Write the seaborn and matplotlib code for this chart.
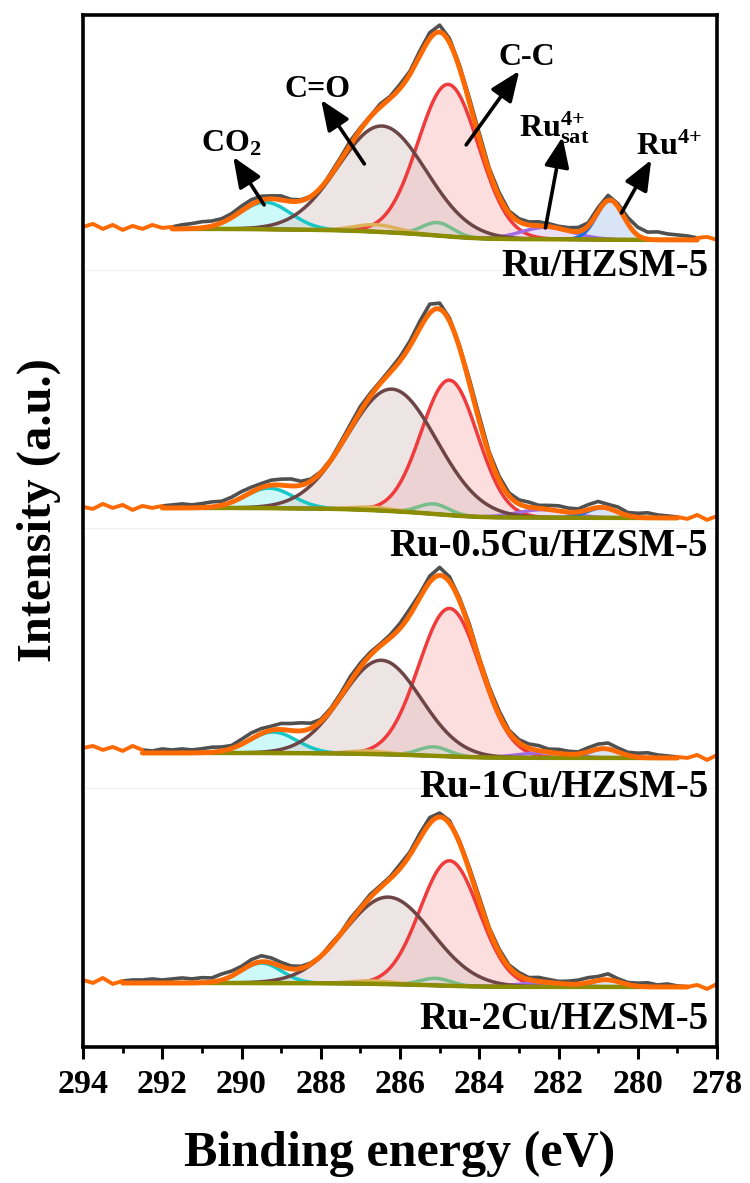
import numpy as np
import matplotlib.pyplot as plt
import seaborn as sns
from matplotlib.ticker import MultipleLocator

# C 1s spectra, top to bottom
samples = ["Ru/HZSM-5", "Ru-0.5Cu/HZSM-5", "Ru-1Cu/HZSM-5", "Ru-2Cu/HZSM-5"]

# levels of the flat tails and of the Shirley background (a.u., stacked)
tail_left = [820, 540, 299, 67]
tail_right = [809, 530, 290, 60]
bg_left = [818, 539, 294, 64]
bg_right = [807, 529, 289, 60]
fit_start = [291.75, 292.0, 292.5, 293.0]
fit_end = [278.5, 279.0, 279.0, 278.75]

# fitted peaks per sample: [centre (eV), height (a.u.), FWHM (eV)]
co2 = [[289.4, 27, 1.5], [289.3, 20, 1.4], [289.2, 21, 1.4], [289.5, 20, 1.2]]
co = [[286.45, 106, 2.6], [286.2, 122, 2.65], [286.47, 94, 2.35], [286.3, 87, 2.6]]
cc = [[284.78, 152, 1.8], [284.75, 135, 1.67], [284.75, 148, 1.83], [284.75, 125, 1.75]]
coh = [[285.05, 13, 0.9], [285.15, 10, 0.9], [285.15, 9, 0.9], [285.1, 7, 0.9]]
oco = [[286.6, 7, 1.3], [286.7, 3, 1.2], [286.8, 3, 1.2], [286.7, 3, 1.2]]
ru_sat = [[282.3, 12, 1.5], [282.4, 8, 1.5], [282.4, 5, 1.5], [282.4, 4, 1.5]]
ru4 = [[280.7, 39, 0.8], [280.9, 10, 0.9], [280.85, 9, 0.9], [280.8, 7, 0.9]]

# raw counts minus fit envelope, every 0.25 eV from 294 to 278 eV
resid_ru = [0, 3, -2, 2, -3, 1, -2, 2, -1,
            2, 4, 5, 6, 5, 4, 4, 5, 5, 4, 3, 4, 2, 1, 0, -1,
            2, 3, 4, 2, 1, 3, 2, 4, 3, 5, 6, 7, 4, 3,
            4, 5, 3, 4, 2, 3, 3, 4, 3, 2, 3, 4, 3, 4, 5, 3,
            6, 8, 7, 8, 6, 5, 4, 2, 1, -2]
resid_05cu = [0, -2, 3, -1, 2, -3, 1, -1,
              2, 3, 4, 3, 4, 5, 4, 5, 6, 5, 4, 5, 6, 7, 4, 2, 1,
              1, 3, 4, 5, 3, 2, 3, 4, 5, 7, 9, 6, 3,
              2, 4, 5, 3, 4, 3, 4, 5, 3, 4, 5, 4, 3, 5, 6, 4, 5, 3,
              4, 5, 3, 2, 1, -2, 2, -3, 1]
resid_1cu = [0, 2, -2, 1, -3, 2,
             3, 2, 4, 3, 4, 3, 4, 5, 4, 3, 5, 6, 5, 4, 6, 7, 8, 5, 2,
             2, 3, 5, 4, 3, 2, 3, 5, 6, 4, 6, 8, 5,
             3, 4, 2, 3, 4, 2, 3, 4, 5, 3, 4, 3, 2, 4, 5, 6, 4, 3,
             4, 5, 3, 2, 1, -1, 2, -3, 2]
resid_2cu = [0, -3, 2, -4,
             2, 3, 3, 4, 3, 4, 5, 4, 5, 4, 6, 5, 4, 5, 6, 5, 4, 3, 2, 1, 0,
             2, 1, 3, 2, 3, 2, 2, 4, 3, 5, 6, 4, 3,
             2, 3, 4, 2, 3, 2, 3, 2, 4, 3, 2, 3, 4, 5, 4, 6, 3, 2,
             3, 4, 2, 3, 1, 0, 2, -2, 3]
residuals = [resid_ru, resid_05cu, resid_1cu, resid_2cu]

# drawing order and colours (line, fill, fill alpha)
peaks = [
    (co2, "#19C7C7", "#BDF7F7", 0.75),
    (cc, "#EF3B3B", "#FBD3D3", 0.75),
    (coh, "#79BD8C", "#D5EDDB", 0.6),
    (oco, "#DDB15A", "#F3E3C0", 0.6),
    (ru_sat, "#A36BE3", "#E1D2F7", 0.7),
    (ru4, "#1F6FE3", "#C9DBF5", 0.7),
    (co, "#6E4545", "#D9C4C4", 0.45),
]

sns.set_theme(style="ticks")
plt.rcParams["font.family"] = ["Liberation Serif", "DejaVu Serif"]
plt.rcParams["font.weight"] = "bold"
plt.rcParams["axes.labelweight"] = "bold"
plt.rcParams["text.color"] = "black"
plt.rcParams["axes.labelcolor"] = "black"
plt.rcParams["xtick.color"] = "black"
plt.rcParams["mathtext.fontset"] = "custom"
plt.rcParams["mathtext.rm"] = "Liberation Serif:bold"
plt.rcParams["mathtext.it"] = "Liberation Serif:bold"
plt.rcParams["mathtext.bf"] = "Liberation Serif:bold"


def gauss(x, p):
    c, h, w = p
    s = w / 2.3548
    return h * np.exp(-0.5 * ((x - c) / s) ** 2)


energy = np.round(np.linspace(294, 278, 641), 3)
raw_energy = energy[::10]

fig = plt.figure(figsize=(7.5, 11.83), dpi=100)
ax = fig.add_axes([0.1107, 0.1150, 0.8453, 0.8724])

for y in [777, 519, 259]:
    ax.axhline(y, color="#F0F0F0", lw=0.8, zorder=0)

for i, name in enumerate(samples):
    m = (energy <= fit_start[i] + 1e-6) & (energy >= fit_end[i] - 1e-6)
    x = energy[m]
    comps = [gauss(x, p[i]) for p, _, _, _ in peaks]
    total = np.sum(comps, axis=0)
    cum = np.cumsum(total[::-1])[::-1]
    bg = bg_right[i] + (bg_left[i] - bg_right[i]) * cum / cum[0]
    env = bg + total

    for g, (p, lc, fc, a) in zip(comps, peaks):
        ax.fill_between(x, bg, bg + g, color=fc, alpha=a, lw=0)
        sns.lineplot(x=x, y=bg + g, ax=ax, color=lc, lw=2.5)
    sns.lineplot(x=x, y=bg, ax=ax, color="#8C8C00", lw=3.2)

    env_full = np.full(len(energy), np.nan)
    env_full[m] = env
    raw_m = m[::10]
    base = np.where(raw_m, env_full[::10],
                    np.where(raw_energy > fit_start[i], tail_left[i], tail_right[i]))
    raw = base + np.array(residuals[i])
    ks = np.where(raw_m)[0]
    k0, k1 = ks[0], ks[-1]
    ax.plot(raw_energy[k0:k1 + 1], raw[k0:k1 + 1], color="#505050", lw=2.6)
    sns.lineplot(x=x, y=env, ax=ax, color="#FF6A00", lw=3.5)
    ax.plot(raw_energy[:k0 + 1], raw[:k0 + 1], color="#FF6A00", lw=2.8)
    ax.plot(raw_energy[k1:], raw[k1:], color="#FF6A00", lw=2.8)

    ax.text(278.22, tail_left[i] - 40, name, ha="right", va="center",
            fontsize=28, fontweight="bold")

# peak assignments on the top spectrum
arrow = dict(arrowstyle="-|>,head_length=0.8,head_width=0.33", mutation_scale=23,
             lw=2.6, color="black", shrinkA=0, shrinkB=0)
notes = [
    ("CO$_{2}$", (290.26, 895), "center", (289.43, 842), (290.21, 890)),
    ("C=O", (288.08, 950), "center", (286.90, 883), (287.99, 947)),
    ("C-C", (282.79, 982), "center", (284.33, 902), (282.99, 976)),
    ("Ru$^{4\\!+}_{\\mathrm{sat}}$", (282.99, 910), "left",
     (282.33, 819), (281.90, 910)),
    ("Ru$^{4\\!+}$", (280.04, 892), "left", (280.41, 834), (279.66, 887)),
]
for label, pos, ha, tail, head in notes:
    ax.annotate("", xy=head, xytext=tail, arrowprops=arrow)
    ax.text(pos[0], pos[1], label, ha=ha, va="baseline", fontsize=23, fontweight="bold")

ax.set_xlim(294, 278)
ax.set_ylim(0, 1032)
ax.set_xticks(np.arange(294, 277, -2))
ax.xaxis.set_minor_locator(MultipleLocator(1))
ax.set_yticks([])
ax.tick_params(axis="x", which="major", direction="out", length=8.6, width=2.2,
               pad=7, labelsize=24.5, bottom=True, top=False, colors="black")
ax.tick_params(axis="x", which="minor", direction="out", length=4.5, width=2.0,
               bottom=True, top=False, colors="black")
for lab in ax.get_xticklabels():
    lab.set_fontweight("bold")
for s in ax.spines.values():
    s.set_linewidth(2.6)
    s.set_color("black")

ax.set_xlabel("Binding energy (eV)", fontsize=36, fontweight="bold", labelpad=22)
ax.set_ylabel("Intensity (a.u.)", fontsize=35, fontweight="bold", labelpad=16)
ax.yaxis.label.set_y(0.52)

fig.savefig("out.png", dpi=100)
